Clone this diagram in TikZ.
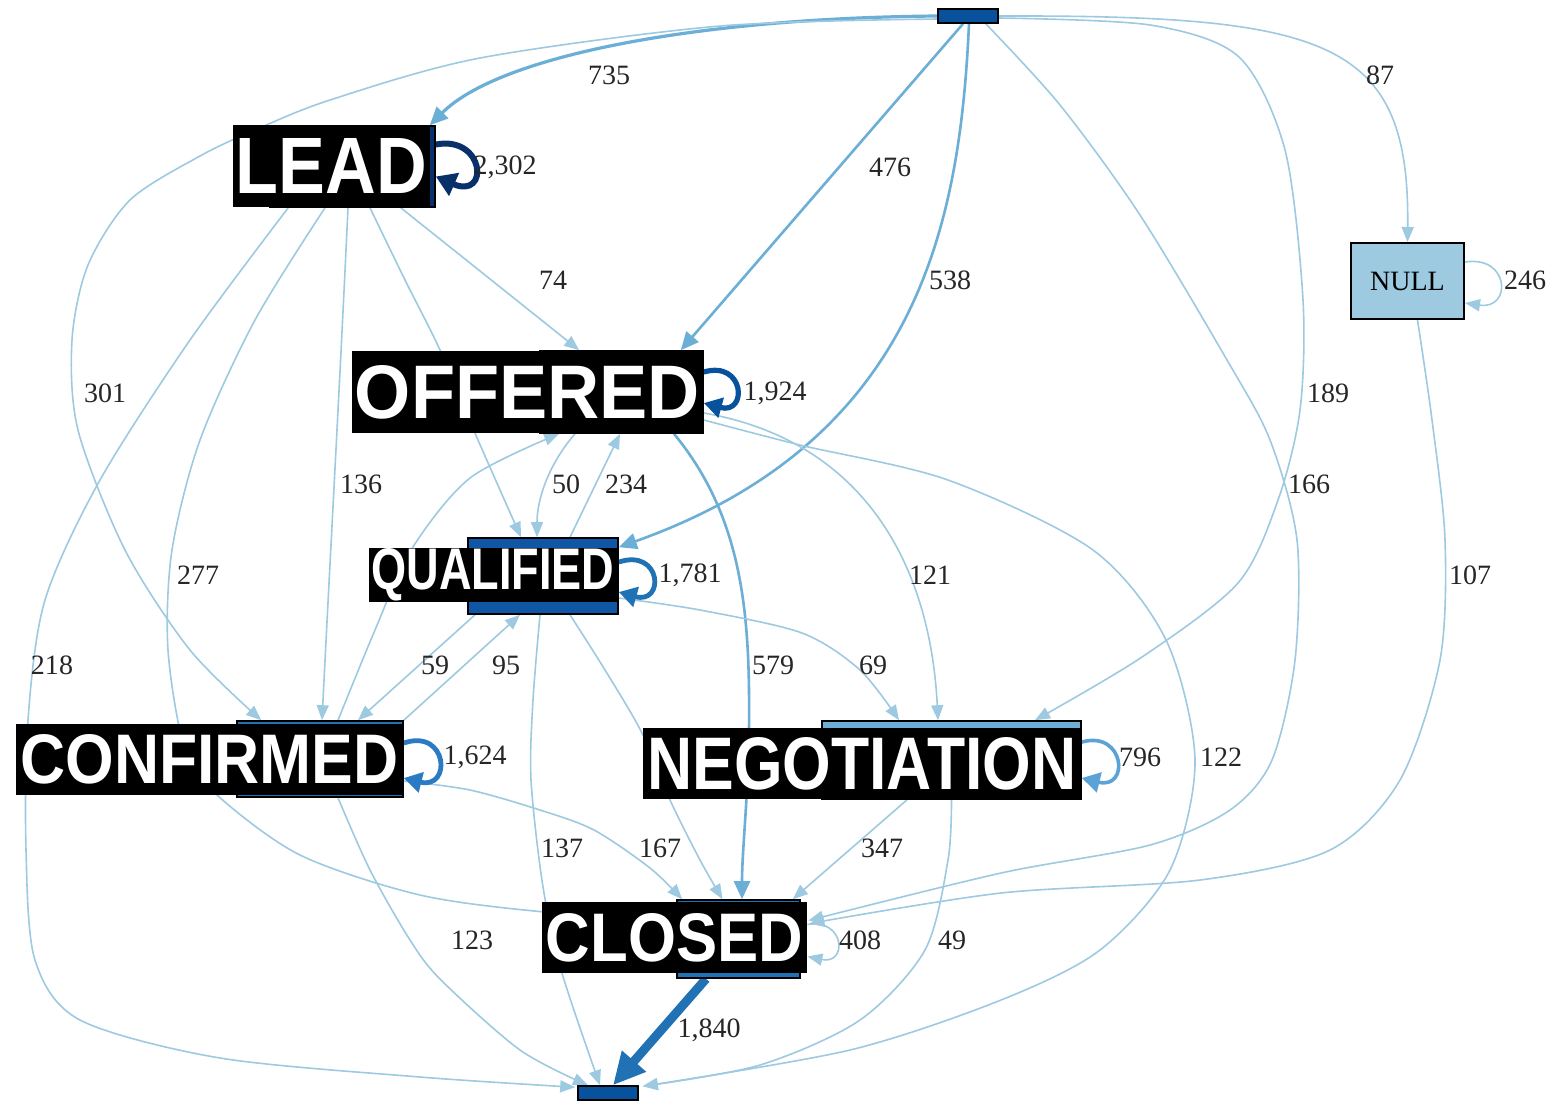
\documentclass[tikz,border=0pt]{standalone}
\usepackage{fontspec}
\usepackage{graphicx}
\setmainfont{Liberation Serif}
\newfontfamily\tagfont{Liberation Sans}
\usetikzlibrary{arrows.meta,calc}

\definecolor{elight}{HTML}{9ECAE1}
\definecolor{emid}{HTML}{6BAED6}
\definecolor{bnavy}{HTML}{08306B}
\definecolor{bdark}{HTML}{08519C}
\definecolor{qfill}{HTML}{0F56A4}
\definecolor{bblue}{HTML}{2171B5}
\definecolor{bsky}{HTML}{2B7BC4}
\definecolor{nloop}{HTML}{5BA3D6}

\pgfdeclarelayer{bg}
\pgfdeclarelayer{flows}
\pgfsetlayers{bg,flows,main}

% white bold caption stretched to a given width and cap height
\newcommand{\tagtext}[3]{\resizebox{#1}{#2}{\tagfont\bfseries #3}}

\tikzset{
  lightflow/.style={draw=elight, line width=0.8pt, -{Triangle[length=7.5pt,width=6pt]}},
  midflow/.style={draw=emid, line width=1.3pt, -{Triangle[length=9pt,width=8pt]}},
  loopflow/.style={-{Triangle[length=9pt,width=10pt]}},
  statebox/.style={rectangle, draw=black, line width=0.8pt, inner sep=0pt},
  statetag/.style={rectangle, fill=black, text=white, inner sep=0pt},
  freq/.style={font=\fontsize{14}{16}\selectfont, inner sep=0pt, text=black!85},
}

\begin{document}
\begin{tikzpicture}[x=0.5pt,y=-0.5pt]
\useasboundingbox (0,0) rectangle (1567,1100);
\begin{pgfonlayer}{bg}
  \fill[white] (0,0) rectangle (1567,1100);
\end{pgfonlayer}

% ---------- state boxes ----------
\node[statebox, fill=bdark, minimum width=30pt, minimum height=7pt] (start) at (968,16) {};
\node[statebox, fill=bdark, minimum width=30pt, minimum height=7pt] (end) at (608,1093) {};
\node[statebox, fill=bnavy, minimum width=82.5pt, minimum height=40.5pt] (lead) at (352.5,166.5) {};
\node[statebox, fill=bdark, minimum width=81.5pt, minimum height=41pt] (offered) at (621.5,392) {};
\node[statebox, fill=qfill, minimum width=75pt, minimum height=38pt] (qualified) at (543,576) {};
\node[statebox, fill=bblue, minimum width=83pt, minimum height=38pt] (confirmed) at (320,759) {};
\node[statebox, fill=emid, minimum width=129.5pt, minimum height=39pt] (negotiation) at (951.5,760) {};
\node[statebox, fill=bblue, minimum width=61.5pt, minimum height=39pt] (closed) at (738.5,939) {};
\node[statebox, fill=elight, line width=1pt, minimum width=56.5pt, minimum height=38pt,
      font=\fontsize{14}{16}\selectfont] (null) at (1407.5,281) {NULL};

% ---------- caption tags over the states ----------
\node[statetag, minimum width=98.5pt, minimum height=41pt] (leadL) at (331.5,166) {\tagtext{95.5pt}{27.5pt}{LEAD}};
\node[statetag, minimum width=175.5pt, minimum height=41pt] (offeredL) at (527.5,392) {\tagtext{172.5pt}{26.5pt}{OFFERED}};
\node[statetag, minimum width=124pt, minimum height=27pt] (qualifiedL) at (493,575) {\tagtext{121.5pt}{20.5pt}{QUALIFIED}};
\node[statetag, minimum width=193.5pt, minimum height=35.5pt] (confirmedL) at (209.5,759.5) {\tagtext{189pt}{24.5pt}{CONFIRMED}};
\node[statetag, minimum width=219pt, minimum height=35.5pt] (negotiationL) at (862,763.5) {\tagtext{214.5pt}{26pt}{NEGOTIATION}};
\node[statetag, minimum width=132.5pt, minimum height=35.5pt] (closedL) at (674.5,937.5) {\tagtext{128.5pt}{24pt}{CLOSED}};

% ---------- transitions ----------
\begin{pgfonlayer}{flows}
% out of the start node
\draw[midflow, line width=1.6pt] (start.west) .. controls (700,18) and (500,55) .. ($(lead.north east)+(-6,0)$);
\coordinate (p301a) at ($(start.west)+(0,3)$);
\coordinate (p301b) at ($(confirmed.north west)+(25,0)$);
\draw[lightflow] plot[smooth] coordinates {(p301a) (720,26) (480,58) (330,100) (255,130) (200,156) (130,200) (88,265) (72,340) (78,430) (125,550) (190,650) (p301b)};
\draw[midflow] ($(start.south)+(-5,0)$) -- ($(offered.north east)+(-23,0)$);
\draw[midflow] ($(start.south)+(1,0)$) .. controls (960,220) and (920,440) .. ($(qualified.north east)+(0,10)$);
\draw[lightflow] (start.east) .. controls (1330,15) and (1410,40) .. (null.north);
\coordinate (p189a) at ($(start.east)+(0,2)$);
\coordinate (p189b) at ($(negotiation.north)+(83.5,0)$);
\draw[lightflow] plot[smooth] coordinates {(p189a) (1150,25) (1239,57) (1285,150) (1303,300) (1300,410) (1278,500) (1238,583) (1142,657) (p189b)};
\coordinate (p166a) at ($(start.south east)+(-13,0)$);
\coordinate (p166b) at ($(closedL.east)+(1,-17)$);
\draw[lightflow] plot[smooth] coordinates {(p166a) (1060,105) (1140,215) (1227,360) (1270,440) (1297,540) (1295,660) (1272,760) (1230,810) (1150,845) (1001,873) (p166b)};

% out of NULL
\coordinate (p107a) at ($(null.south)+(10,0)$);
\coordinate (p107b) at ($(closedL.east)+(2,-14)$);
\draw[lightflow] plot[smooth] coordinates {(p107a) (1432,420) (1445,540) (1440,660) (1400,780) (1330,850) (1200,880) (1001,893) (p107b)};

% out of LEAD
\draw[lightflow] ($(lead.south east)+(-35,0)$) -- ($(offered.north west)+(40,0)$);
\coordinate (pLQa) at ($(lead.south)+(17.5,0)$);
\coordinate (pLQb) at ($(qualified.north)+(-22,0)$);
\draw[lightflow] plot[smooth] coordinates {(pLQa) (405,280) (440,350) (478,440) (pLQb)};
\draw[lightflow] ($(lead.south)+(-4.5,0)$) .. controls (340,380) and (330,560) .. ($(confirmed.north)+(2,0)$);
\coordinate (p277a) at ($(lead.south)+(-27.5,0)$);
\coordinate (p277b) at ($(closed.west)+(0,-20)$);
\draw[lightflow] plot[smooth] coordinates {(p277a) (255,320) (200,440) (172,550) (168,650) (185,750) (217,795) (300,855) (420,895) (545,912) (p277b)};
\coordinate (p218a) at ($(lead.south west)+(19,0)$);
\coordinate (p218b) at ($(end.north west)+(-2,2)$);
\draw[lightflow] plot[smooth] coordinates {(p218a) (190,340) (100,480) (45,600) (28,720) (26,850) (35,960) (80,1020) (220,1058) (420,1077) (p218b)};

% out of OFFERED
\draw[lightflow] ($(offered.south)+(-46.5,0)$) .. controls (548,465) and (537,500) .. ($(qualified.north)+(-6,0)$);
\draw[midflow] ($(offered.south)+(52.5,0)$) .. controls (745,520) and (750,620) .. (749,730) .. controls (748,800) and (742,850) .. ($(closed.north)+(3.5,0)$);
\draw[lightflow] ($(offered.east)+(0,21)$) .. controls (860,440) and (930,560) .. ($(negotiation.north)+(-13.5,0)$);
\coordinate (p122a) at ($(offered.east)+(0,28)$);
\coordinate (p122b) at ($(end.north east)+(4,1)$);
\draw[lightflow] plot[smooth] coordinates {(p122a) (800,445) (948,480) (1093,550) (1166,640) (1195,760) (1170,870) (1100,950) (1001,1000) (850,1050) (p122b)};

% out of QUALIFIED
\draw[lightflow] ($(qualified.north)+(27,0)$) -- ($(offered.south)+(-1.5,0)$);
\draw[lightflow] ($(qualified.south)+(-68,0)$) -- ($(confirmed.north)+(38,0)$);
\coordinate (p69a) at ($(qualified.east)+(0,22)$);
\coordinate (p69b) at ($(negotiation.north)+(-52.5,0)$);
\draw[lightflow] plot[smooth] coordinates {(p69a) (700,610) (802,633) (860,670) (p69b)};
\coordinate (p137a) at ($(qualified.south)+(-3,0)$);
\coordinate (p137b) at ($(end.north)+(-8,0)$);
\draw[lightflow] plot[smooth] coordinates {(p137a) (533,700) (531,780) (543,887) (562,973) (p137b)};
\coordinate (pQCa) at ($(qualified.south)+(27,0)$);
\coordinate (pQCb) at ($(closed.north)+(-16,0)$);
\draw[lightflow] plot[smooth] coordinates {(pQCa) (605,670) (642,733) (670,800) (700,860) (pQCb)};

% out of CONFIRMED
\draw[lightflow] (confirmed.north east) -- ($(qualified.south)+(-23,0)$);
\coordinate (pCOa) at ($(confirmed.north)+(18,0)$);
\coordinate (pCOb) at ($(offered.south west)+(20,0)$);
\draw[lightflow] plot[smooth] coordinates {(pCOa) (375,630) (411,550) (470,478) (pCOb)};
\coordinate (p167a) at ($(confirmed.east)+(0,22)$);
\coordinate (p167b) at ($(closed.north west)+(6,0)$);
\draw[lightflow] plot[smooth] coordinates {(p167a) (470,790) (540,810) (594,830) (650,868) (p167b)};
\coordinate (p123a) at ($(confirmed.south)+(18,0)$);
\coordinate (p123b) at ($(end.north)+(-20,0)$);
\draw[lightflow] plot[smooth] coordinates {(p123a) (370,870) (410,940) (441,980) (520,1050) (p123b)};

% out of NEGOTIATION
\draw[lightflow] ($(negotiation.south)+(-44.5,0)$) -- ($(closed.north east)+(-8,0)$);
\coordinate (p49b) at ($(end.north east)+(4,1)$);
\draw[lightflow] plot[smooth] coordinates {(negotiation.south) (948,860) (925,950) (860,1020) (760,1065) (p49b)};

% out of CLOSED
\draw[draw=bblue, line width=4.5pt, -{Triangle[length=16pt,width=15pt]}] ($(closed.south)+(-32.5,0)$) -- ($(end.north)+(5,0)$);

% self loops
\draw[loopflow, draw=bnavy, line width=3pt, -{Triangle[length=10pt,width=12pt]}] ($(lead.east)+(0,-22)$) .. controls (485,135) and (490,200) .. ($(lead.east)+(0,10)$);
\draw[loopflow, draw=bdark, line width=2.6pt] ($(offered.east)+(0,-20)$) .. controls (745,360) and (748,415) .. ($(offered.east)+(0,11)$);
\draw[loopflow, draw=bblue, line width=2.4pt] ($(qualified.east)+(0,-14)$) .. controls (662,548) and (665,605) .. ($(qualified.east)+(0,16)$);
\draw[loopflow, draw=bsky, line width=2.4pt] ($(confirmed.east)+(0,-16)$) .. controls (448,728) and (452,790) .. ($(confirmed.east)+(0,19)$);
\draw[loopflow, draw=nloop, line width=1.8pt] ($(negotiation.east)+(0,-18)$) .. controls (1125,730) and (1130,790) .. ($(negotiation.east)+(0,18)$);
\draw[lightflow] ($(closedL.east)+(0,-13)$) .. controls (845,918) and (848,965) .. ($(closedL.east)+(0,19)$);
\draw[lightflow] ($(null.east)+(0,-19)$) .. controls (1510,255) and (1512,310) .. ($(null.east)+(0,22)$);
\end{pgfonlayer}

% ---------- frequencies ----------
\node[freq] (f735) at (609,75) {735};
\node[freq] (f2302) at (505,167) {2,302};
\node[freq] (f476) at (890,167) {476};
\node[freq] (f87) at (1380,75) {87};
\node[freq] (f246) at (1525,280) {246};
\node[freq] (f74) at (553,280) {74};
\node[freq] (f538) at (950,280) {538};
\node[freq] (f301) at (105,393) {301};
\node[freq] (f1924) at (775,393) {1,924};
\node[freq] (f189) at (1328,393) {189};
\node[freq] (f136) at (361,484) {136};
\node[freq] (f50) at (566,484) {50};
\node[freq] (f234) at (626,484) {234};
\node[freq] (f166) at (1309,484) {166};
\node[freq] (f277) at (198,575) {277};
\node[freq] (f1781) at (690,575) {1,781};
\node[freq] (f121) at (930,575) {121};
\node[freq] (f107) at (1470,575) {107};
\node[freq] (f218) at (52,665) {218};
\node[freq] (f59) at (435,665) {59};
\node[freq] (f95) at (506,665) {95};
\node[freq] (f579) at (773,665) {579};
\node[freq] (f69) at (873,665) {69};
\node[freq] (f1624) at (475,757) {1,624};
\node[freq] (f796) at (1140,757) {796};
\node[freq] (f122) at (1221,757) {122};
\node[freq] (f137) at (562,848) {137};
\node[freq] (f167) at (660,848) {167};
\node[freq] (f347) at (882,848) {347};
\node[freq] (f123) at (472,940) {123};
\node[freq] (f408) at (860,940) {408};
\node[freq] (f49) at (952,940) {49};
\node[freq] (f1840) at (709,1030) {1,840};
\end{tikzpicture}
\end{document}
